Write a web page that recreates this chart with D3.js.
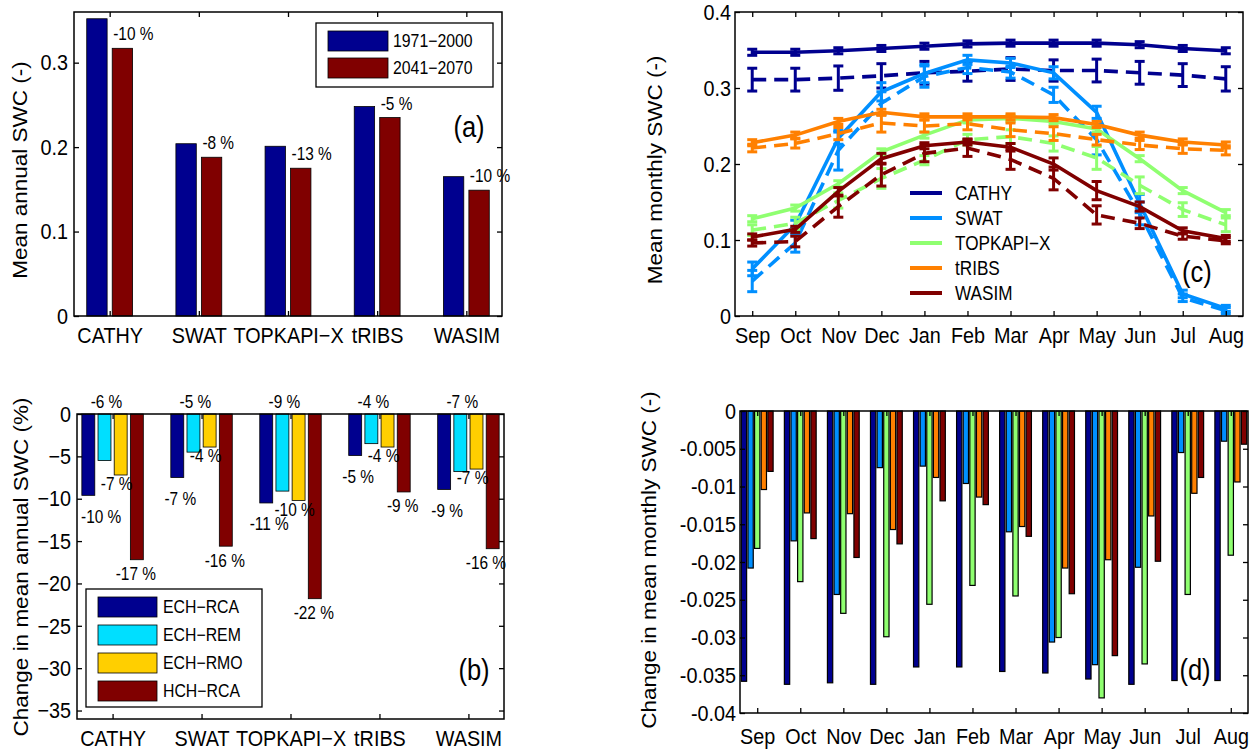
<!DOCTYPE html>
<html>
<head>
<meta charset="utf-8">
<script src="https://cdn.jsdelivr.net/npm/d3@7"></script>
<style>
  body { margin: 0; background: #fff; }
  svg text { font-family: "Liberation Sans", Arial, Helvetica, sans-serif; fill: #000; }
</style>
</head>
<body>
<div id="fig"></div>
<script>
// ---- data ----
const models = ["CATHY", "SWAT", "TOPKAPI\u2212X", "tRIBS", "WASIM"];
const months = ["Sep", "Oct", "Nov", "Dec", "Jan", "Feb", "Mar", "Apr", "May", "Jun", "Jul", "Aug"];

// (a) mean annual SWC
const periods = ["1971\u22122000", "2041\u22122070"];
const swcRef = [0.352, 0.204, 0.201, 0.248, 0.165];
const swcFut = [0.317, 0.188, 0.175, 0.235, 0.149];
const changeLabelsA = ["-10 %", "-8 %", "-13 %", "-5 %", "-10 %"];

// (b) change in mean annual SWC (%) per climate scenario
const scenarios = ["ECH\u2212RCA", "ECH\u2212REM", "ECH\u2212RMO", "HCH\u2212RCA"];
const chgRCA = [-9.6, -7.5, -10.5, -4.9, -8.9];
const chgREM = [-5.5, -4.5, -9.1, -3.5, -6.8];
const chgRMO = [-7.2, -3.9, -10.2, -3.9, -6.5];
const chgHCH = [-17.2, -15.6, -21.8, -9.2, -15.9];
const lblRCA = ["-10 %", "-7 %", "-11 %", "-5 %", "-9 %"];
const lblREM = ["-6 %", "-5 %", "-9 %", "-4 %", "-7 %"];
const lblRMO = ["-7 %", "-4 %", "-10 %", "-4 %", "-7 %"];
const lblHCH = ["-17 %", "-16 %", "-22 %", "-9 %", "-16 %"];

// (c) mean monthly SWC, reference (solid) and future (dashed), with error bars
const cathyRef = [0.347, 0.347, 0.349, 0.352, 0.355, 0.358, 0.359, 0.359, 0.359, 0.357, 0.352, 0.349];
const cathyRefErr = [0.004, 0.004, 0.004, 0.004, 0.004, 0.004, 0.004, 0.004, 0.004, 0.004, 0.004, 0.004];
const cathyFut = [0.311, 0.311, 0.313, 0.316, 0.320, 0.322, 0.325, 0.323, 0.323, 0.320, 0.317, 0.312];
const cathyFutErr = [0.015, 0.015, 0.016, 0.016, 0.015, 0.013, 0.015, 0.014, 0.015, 0.015, 0.015, 0.016];
const swatRef = [0.062, 0.120, 0.234, 0.295, 0.319, 0.337, 0.333, 0.320, 0.268, 0.148, 0.029, 0.010];
const swatRefErr = [0.009, 0.006, 0.008, 0.012, 0.012, 0.006, 0.006, 0.008, 0.008, 0.012, 0.005, 0.004];
const swatFut = [0.046, 0.096, 0.218, 0.280, 0.315, 0.327, 0.321, 0.291, 0.232, 0.135, 0.024, 0.007];
const swatFutErr = [0.014, 0.012, 0.026, 0.015, 0.014, 0.008, 0.008, 0.010, 0.020, 0.015, 0.005, 0.004];
const topRef = [0.128, 0.142, 0.174, 0.216, 0.238, 0.258, 0.260, 0.256, 0.246, 0.207, 0.165, 0.136];
const topRefErr = [0.004, 0.004, 0.004, 0.004, 0.004, 0.004, 0.004, 0.004, 0.004, 0.004, 0.004, 0.004];
const topFut = [0.113, 0.122, 0.152, 0.181, 0.205, 0.232, 0.236, 0.227, 0.208, 0.172, 0.140, 0.120];
const topFutErr = [0.007, 0.008, 0.010, 0.013, 0.006, 0.007, 0.009, 0.010, 0.015, 0.011, 0.009, 0.009];
const tribsRef = [0.228, 0.238, 0.256, 0.268, 0.262, 0.262, 0.262, 0.261, 0.252, 0.238, 0.229, 0.225];
const tribsRefErr = [0.004, 0.004, 0.004, 0.004, 0.004, 0.004, 0.004, 0.004, 0.004, 0.004, 0.004, 0.004];
const tribsFut = [0.221, 0.227, 0.240, 0.254, 0.250, 0.253, 0.245, 0.240, 0.232, 0.225, 0.220, 0.218];
const tribsFutErr = [0.005, 0.006, 0.008, 0.012, 0.008, 0.008, 0.009, 0.009, 0.007, 0.006, 0.006, 0.006];
const wasimRef = [0.104, 0.114, 0.164, 0.207, 0.224, 0.229, 0.222, 0.200, 0.165, 0.144, 0.112, 0.102];
const wasimRefErr = [0.004, 0.004, 0.005, 0.007, 0.004, 0.004, 0.005, 0.008, 0.012, 0.006, 0.004, 0.004];
const wasimFut = [0.096, 0.098, 0.144, 0.186, 0.214, 0.221, 0.206, 0.181, 0.133, 0.122, 0.105, 0.099];
const wasimFutErr = [0.004, 0.007, 0.014, 0.015, 0.011, 0.011, 0.013, 0.015, 0.012, 0.007, 0.004, 0.004];

// (d) change in mean monthly SWC
const dCathy = [-0.0358, -0.0362, -0.0360, -0.0362, -0.0339, -0.0339, -0.0345, -0.0347, -0.0355, -0.0362, -0.0357, -0.0357];
const dSwat = [-0.0208, -0.0172, -0.0243, -0.0075, -0.0073, -0.0096, -0.0160, -0.0306, -0.0336, -0.0207, -0.0055, -0.0040];
const dTop = [-0.0182, -0.0226, -0.0268, -0.0299, -0.0256, -0.0231, -0.0245, -0.0300, -0.0380, -0.0335, -0.0243, -0.0191];
const dTribs = [-0.0104, -0.0135, -0.0136, -0.0157, -0.0088, -0.0114, -0.0153, -0.0208, -0.0197, -0.0139, -0.0109, -0.0094];
const dWasim = [-0.0080, -0.0169, -0.0194, -0.0176, -0.0119, -0.0124, -0.0166, -0.0242, -0.0324, -0.0199, -0.0088, -0.0044];

// ---- colours (jet samples, like the original) ----
const colA = ["#00008f", "#800000"];
const colB = ["#00008f", "#00dfff", "#ffcf00", "#800000"];
const colModel = ["#00008f", "#008fff", "#8fff70", "#ff8000", "#800000"];

const svg = d3.select("#fig").append("svg")
  .attr("width", 1254)
  .attr("height", 755);
svg.append("rect").attr("width", 1254).attr("height", 755).attr("fill", "#fff");

// the source figure's lettering is narrow and tall: squeeze text horizontally
const sq = 0.88;
const tickFont = 22.5;

function squeeze(sel) {
  sel.each(function () {
    const x = +(this.getAttribute("x") || 0);
    this.setAttribute("transform", `translate(${x * (1 - sq)},0) scale(${sq},1)`);
  });
  return sel;
}

// draw box, inward ticks on all sides, labels left and bottom
function frame(xs, ys, xTicks, xFmt, yTicks, yFmt, xPad, yPad) {
  const g = svg.append("g");
  const [x0, x1] = xs.range();
  const [yb, yt] = ys.range();

  const bottom = g.append("g").attr("transform", `translate(0,${yb})`)
    .call(d3.axisBottom(xs).tickValues(xTicks).tickFormat(xFmt).tickSize(-5).tickPadding(xPad));
  const left = g.append("g").attr("transform", `translate(${x0},0)`)
    .call(d3.axisLeft(ys).tickValues(yTicks).tickFormat(yFmt).tickSize(-5).tickPadding(yPad));
  const top = g.append("g").attr("transform", `translate(0,${yt})`)
    .call(d3.axisTop(xs).tickValues(xTicks).tickFormat("").tickSize(-5));
  const right = g.append("g").attr("transform", `translate(${x1},0)`)
    .call(d3.axisRight(ys).tickValues(yTicks).tickFormat("").tickSize(-5));

  [bottom, left, top, right].forEach(a => {
    a.select(".domain").remove();
    a.selectAll("line").attr("stroke", "#000").attr("stroke-width", 1.3);
    squeeze(a.selectAll("text").attr("font-size", tickFont).attr("font-family", null));
  });

  g.append("rect")
    .attr("x", x0).attr("y", yt)
    .attr("width", x1 - x0).attr("height", yb - yt)
    .attr("fill", "none").attr("stroke", "#000").attr("stroke-width", 1.5);
  return g;
}

function yTitle(x, y, str) {
  svg.append("text")
    .attr("transform", `translate(${x},${y}) rotate(-90) scale(1,${sq})`)
    .attr("text-anchor", "middle")
    .attr("dominant-baseline", "central")
    .attr("font-size", 22.5)
    .text(str);
}

function tag(x, y, str) {
  squeeze(svg.append("text")
    .attr("x", x).attr("y", y)
    .attr("text-anchor", "middle")
    .attr("dominant-baseline", "central")
    .attr("font-size", 29)
    .text(str));
}

// =============== (a) ===============
const xA = d3.scaleLinear().domain([0.6, 5.4]).range([74, 502]);
const yA = d3.scaleLinear().domain([0, 0.36]).range([316, 12]);
const gA = svg.append("g");
const wA = xA(2 / 7 * 0.8) - xA(0);
[swcRef, swcFut].forEach((vals, s) => {
  const off = s === 0 ? -1 / 7 : 1 / 7;
  gA.selectAll(null).data(vals).enter().append("rect")
    .attr("x", (d, i) => xA(i + 1 + off) - wA / 2)
    .attr("y", d => yA(d))
    .attr("width", wA)
    .attr("height", d => yA(0) - yA(d))
    .attr("fill", colA[s])
    .attr("stroke", "#000").attr("stroke-width", 0.8);
});
squeeze(gA.selectAll(null).data(changeLabelsA).enter().append("text")
  .attr("x", (d, i) => xA(i + 1 + 1 / 7) - wA / 2 + 1)
  .attr("y", (d, i) => yA(swcFut[i]) - 8)
  .attr("font-size", 17.5)
  .text(d => d));
frame(xA, yA, [1, 2, 3, 4, 5], i => models[i - 1], [0, 0.1, 0.2, 0.3], d => d === 0 ? "0" : d3.format(".1f")(d), 11, 6);
yTitle(20, 170, "Mean annual SWC (-)");

// legend (a)
const legA = svg.append("g");
legA.append("rect").attr("x", 316).attr("y", 23).attr("width", 177).attr("height", 64)
  .attr("fill", "#fff").attr("stroke", "#000").attr("stroke-width", 1.3);
periods.forEach((p, k) => {
  legA.append("rect").attr("x", 328).attr("y", 31 + k * 27).attr("width", 60).attr("height", 20)
    .attr("fill", colA[k]).attr("stroke", "#000").attr("stroke-width", 0.8);
  squeeze(legA.append("text").attr("x", 393).attr("y", 41 + k * 27)
    .attr("dominant-baseline", "central").attr("font-size", 18).text(p));
});
tag(469, 127, "(a)");

// =============== (b) ===============
const xB = d3.scaleLinear().domain([0.6, 5.4]).range([77, 504]);
const yB = d3.scaleLinear().domain([-36, 0]).range([719, 414]);
const gB = svg.append("g");
const slotB = 4 / 5.5 / 4;
const wB = xB(slotB * 0.8) - xB(0);
const offB = [-1.5, -0.5, 0.5, 1.5].map(k => k * slotB);
const seriesB = [chgRCA, chgREM, chgRMO, chgHCH];
const labelsB = [lblRCA, lblREM, lblRMO, lblHCH];
seriesB.forEach((vals, s) => {
  gB.selectAll(null).data(vals).enter().append("rect")
    .attr("x", (d, i) => xB(i + 1 + offB[s]) - wB / 2)
    .attr("y", yB(0))
    .attr("width", wB)
    .attr("height", d => yB(d) - yB(0))
    .attr("fill", colB[s])
    .attr("stroke", "#000").attr("stroke-width", 0.8);
});
// value labels: ECH-REM above the zero line, the rest just under each bar
const lblDx = [3, 2, -4, -1];
const lblDy = [21, null, 9, 14];
labelsB.forEach((lbls, s) => {
  const t = gB.selectAll(null).data(lbls).enter().append("text")
    .attr("x", (d, i) => xB(i + 1 + offB[s]) + lblDx[s])
    .attr("y", (d, i) => s === 1 ? yB(0) - 12 : yB(seriesB[s][i]) + lblDy[s])
    .attr("text-anchor", "middle")
    .attr("dominant-baseline", "central")
    .attr("font-size", 17.5)
    .text(d => d)
    .each(function () {
      // keep labels inside the box
      const w = this.getComputedTextLength() * sq;
      const cx = +this.getAttribute("x");
      const lo = xB.range()[0] + w / 2 + 4, hi = xB.range()[1] - w / 2 + 2;
      this.setAttribute("x", Math.max(lo, Math.min(hi, cx)));
    });
  squeeze(t);
});
frame(xB, yB, [1, 2, 3, 4, 5], i => models[i - 1], d3.range(-35, 1, 5), d => d === 0 ? "0" : "\u2212" + Math.abs(d), 11, 6);
yTitle(21, 567, "Change in mean annual SWC (%)");

const legB = svg.append("g");
legB.append("rect").attr("x", 86).attr("y", 589).attr("width", 176).attr("height", 118)
  .attr("fill", "#fff").attr("stroke", "#000").attr("stroke-width", 1.3);
scenarios.forEach((s, k) => {
  legB.append("rect").attr("x", 98).attr("y", 597 + k * 28).attr("width", 59).attr("height", 20)
    .attr("fill", colB[k]).attr("stroke", "#000").attr("stroke-width", 0.8);
  squeeze(legB.append("text").attr("x", 163).attr("y", 607 + k * 28)
    .attr("dominant-baseline", "central").attr("font-size", 18).text(s));
});
tag(474, 670, "(b)");

// =============== (c) ===============
const xC = d3.scaleLinear().domain([0.6, 12.4]).range([735, 1243]);
const yC = d3.scaleLinear().domain([0, 0.4]).range([316, 12]);
const gC = svg.append("g");
const seriesC = [
  [cathyRef, cathyRefErr, cathyFut, cathyFutErr],
  [swatRef, swatRefErr, swatFut, swatFutErr],
  [topRef, topRefErr, topFut, topFutErr],
  [tribsRef, tribsRefErr, tribsFut, tribsFutErr],
  [wasimRef, wasimRefErr, wasimFut, wasimFutErr]
];
const lineC = d3.line().x((d, i) => xC(i + 1)).y(d => yC(d));
const capW = 5;
seriesC.forEach((ser, m) => {
  [0, 2].forEach(k => {
    const vals = ser[k], errs = ser[k + 1];
    const gs = gC.append("g").attr("stroke", colModel[m]).attr("fill", "none");
    gs.append("path").datum(vals)
      .attr("d", lineC)
      .attr("stroke-width", 3.6)
      .attr("stroke-dasharray", k === 2 ? "14,8" : null);
    const eb = gs.selectAll(null).data(vals).enter().append("g").attr("stroke-width", 3);
    eb.append("line")
      .attr("x1", (d, i) => xC(i + 1)).attr("x2", (d, i) => xC(i + 1))
      .attr("y1", (d, i) => yC(d - errs[i])).attr("y2", (d, i) => yC(d + errs[i]));
    eb.append("line")
      .attr("x1", (d, i) => xC(i + 1) - capW).attr("x2", (d, i) => xC(i + 1) + capW)
      .attr("y1", (d, i) => yC(d - errs[i])).attr("y2", (d, i) => yC(d - errs[i]));
    eb.append("line")
      .attr("x1", (d, i) => xC(i + 1) - capW).attr("x2", (d, i) => xC(i + 1) + capW)
      .attr("y1", (d, i) => yC(d + errs[i])).attr("y2", (d, i) => yC(d + errs[i]));
  });
});
frame(xC, yC, d3.range(1, 13), i => months[i - 1], [0, 0.1, 0.2, 0.3, 0.4], d => d === 0 ? "0" : d3.format(".1f")(d), 11, 4);
yTitle(655, 170, "Mean monthly SWC (-)");

const legC = svg.append("g");
models.forEach((name, k) => {
  legC.append("line").attr("x1", 910).attr("x2", 942)
    .attr("y1", 193 + k * 25).attr("y2", 193 + k * 25)
    .attr("stroke", colModel[k]).attr("stroke-width", 4);
  squeeze(legC.append("text").attr("x", 955).attr("y", 193 + k * 25)
    .attr("dominant-baseline", "central").attr("font-size", 19.5).text(name));
});
tag(1197, 272, "(c)");

// =============== (d) ===============
const xD = d3.scaleLinear().domain([0.6, 12.4]).range([740, 1248]);
const yD = d3.scaleLinear().domain([-0.04, 0]).range([713, 411]);
const gD = svg.append("g");
const slotD = 5 / 6.5 / 5;
const wD = xD(slotD * 0.8) - xD(0);
const seriesD = [dCathy, dSwat, dTop, dTribs, dWasim];
seriesD.forEach((vals, s) => {
  gD.selectAll(null).data(vals).enter().append("rect")
    .attr("x", (d, i) => xD(i + 1 + (s - 2) * slotD) - wD / 2)
    .attr("y", yD(0))
    .attr("width", wD)
    .attr("height", d => yD(d) - yD(0))
    .attr("fill", colModel[s])
    .attr("stroke", "#000").attr("stroke-width", 1.2);
});
frame(xD, yD, d3.range(1, 13), i => months[i - 1], d3.range(-0.04, 0.0001, 0.005).map(d => +d.toFixed(3)), d => d === 0 ? "0" : "-" + Math.abs(d), 15, 4);
yTitle(649, 560, "Change in mean monthly SWC (-)");
tag(1195, 670, "(d)");
</script>
</body>
</html>
